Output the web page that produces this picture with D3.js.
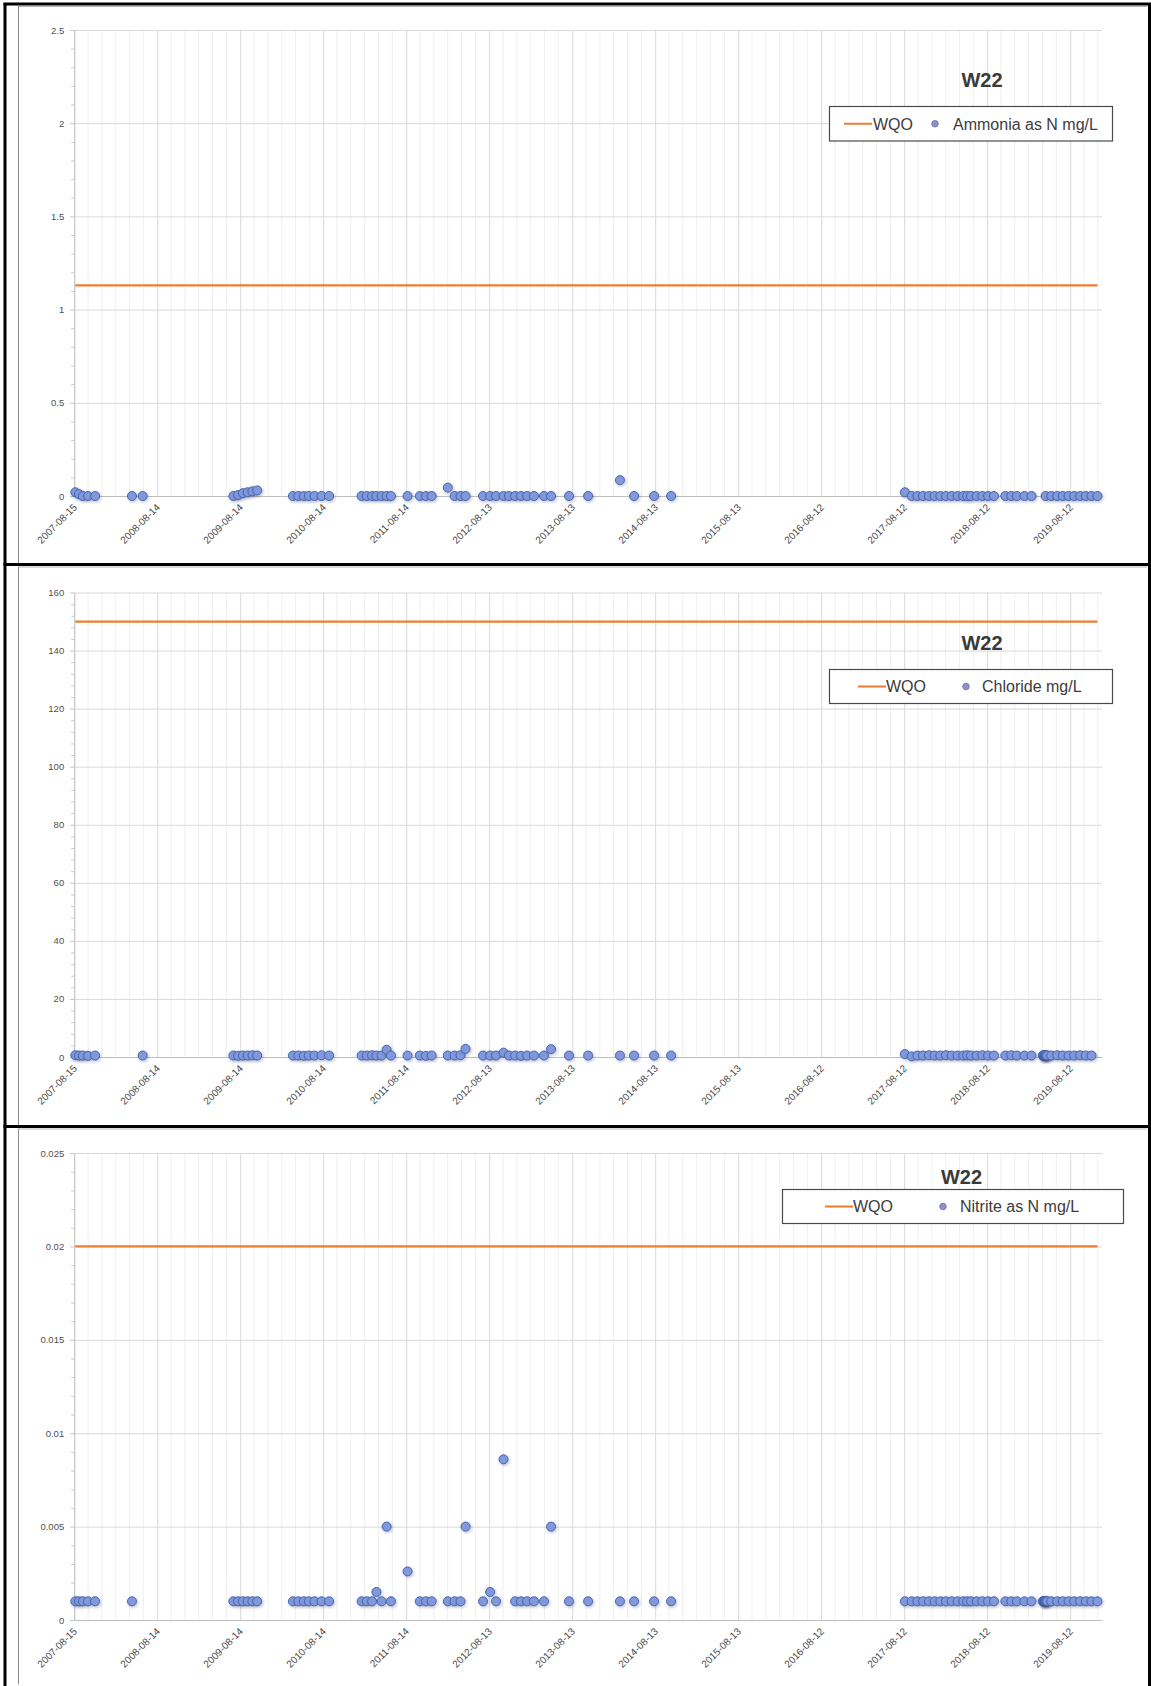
<!DOCTYPE html>
<html>
<head>
<meta charset="utf-8">
<script src="https://cdn.jsdelivr.net/npm/d3@7"></script>
<style>
  html, body { margin: 0; padding: 0; background: #fff; }
  svg { display: block; }
</style>
</head>
<body>
<svg id="page" width="1151" height="1686"></svg>
<script>
// ---- Station W22 monitoring results -------------------------------------
const stationName = "W22";

// Sampling dates (shared by the three parameters)
const sampleDates = [
  "2007-08-20","2007-09-05","2007-09-22","2007-10-15","2007-11-15",
  "2008-04-25","2008-06-11",
  "2009-07-15","2009-08-05","2009-08-26","2009-09-16","2009-10-07","2009-10-28",
  "2010-04-03","2010-04-27","2010-05-21","2010-06-12","2010-07-07","2010-08-07","2010-09-09",
  "2011-01-30","2011-02-22","2011-03-17","2011-04-05","2011-04-28","2011-05-20","2011-06-08",
  "2011-08-20","2011-10-13","2011-11-09","2011-12-04",
  "2012-02-13","2012-03-14","2012-04-09","2012-05-01",
  "2012-07-17","2012-08-17","2012-09-12","2012-10-15","2012-11-08","2012-12-05","2012-12-31",
  "2013-01-27","2013-02-26","2013-04-11","2013-05-12","2013-07-30","2013-10-22",
  "2014-03-11","2014-05-12","2014-08-08","2014-10-22",
  "2017-08-15","2017-09-14","2017-10-09","2017-11-03","2017-11-29","2017-12-24",
  "2018-01-18","2018-02-12","2018-03-09","2018-04-04","2018-04-29","2018-05-16",
  "2018-06-02","2018-06-27","2018-07-22","2018-08-16","2018-09-11","2018-10-31",
  "2018-11-26","2018-12-21",
  "2019-01-23","2019-02-23","2019-04-14","2019-04-17","2019-04-20","2019-04-23",
  "2019-04-26","2019-04-29","2019-05-03","2019-05-21","2019-06-16","2019-07-11",
  "2019-08-05","2019-08-30","2019-09-25","2019-10-20","2019-11-14","2019-12-10"
];

// Ammonia as N (mg/L); null = not analysed on that date
const ammoniaValues = [
  0.02, 0.01, 0, 0, 0,
  0, 0,
  0, 0.005, 0.015, 0.02, 0.025, 0.03,
  0, 0, 0, 0, 0, 0, 0,
  0, 0, 0, 0, 0, 0, 0,
  0, 0, 0, 0,
  0.045, 0, 0, 0,
  0, 0, 0, 0, 0, 0, 0,
  0, 0, 0, 0, 0, 0,
  0.085, 0, 0, 0,
  0.02, 0, 0, 0, 0, 0,
  0, 0, 0, 0, 0, 0,
  0, 0, 0, 0, 0, 0,
  0, 0,
  0, 0, null, null, null, null,
  0, null, null, 0, 0, 0,
  0, 0, 0, 0, 0, 0
];

// Chloride (mg/L)
const chlorideValues = [
  0.6, 0.5, 0.5, 0.4, 0.5,
  null, 0.5,
  0.5, 0.4, 0.5, 0.5, 0.6, 0.5,
  0.5, 0.5, 0.4, 0.5, 0.5, 0.6, 0.5,
  0.5, 0.5, 0.6, 0.5, 0.5, 2.5, 0.5,
  0.5, 0.5, 0.4, 0.5,
  0.5, 0.5, 0.6, 2.8,
  0.5, 0.5, 0.5, 1.5, 0.5, 0.5, 0.4,
  0.5, 0.5, 0.5, 2.7, 0.5, 0.5,
  0.5, 0.5, 0.5, 0.5,
  1.0, 0.2, 0.5, 0.5, 0.6, 0.5,
  0.5, 0.6, 0.5, 0.5, 0.5, 0.6,
  0.5, 0.5, 0.6, 0.5, 0.5, 0.5,
  0.6, 0.5,
  0.5, 0.5, 0.5, 0.6, 0.5, 0.5,
  0.6, 0.5, 0.5, 0.5, 0.6, 0.5,
  0.5, 0.5, 0.6, 0.5, 0.5, null
];

// Nitrite as N (mg/L)
const nitriteValues = [
  0.001, 0.001, 0.001, 0.001, 0.001,
  0.001, null,
  0.001, 0.001, 0.001, 0.001, 0.001, 0.001,
  0.001, 0.001, 0.001, 0.001, 0.001, 0.001, 0.001,
  0.001, 0.001, 0.001, 0.0015, 0.001, 0.005, 0.001,
  0.0026, 0.001, 0.001, 0.001,
  0.001, 0.001, 0.001, 0.005,
  0.001, 0.0015, 0.001, 0.0086, null, 0.001, 0.001,
  0.001, 0.001, 0.001, 0.005, 0.001, 0.001,
  0.001, 0.001, 0.001, 0.001,
  0.001, 0.001, 0.001, 0.001, 0.001, 0.001,
  0.001, 0.001, 0.001, 0.001, 0.001, 0.001,
  0.001, 0.001, 0.001, 0.001, 0.001, 0.001,
  0.001, 0.001,
  0.001, 0.001, 0.001, 0.001, 0.001, 0.001,
  0.001, 0.001, 0.001, 0.001, 0.001, 0.001,
  0.001, 0.001, 0.001, 0.001, 0.001, 0.001
];

// Water quality objectives (mg/L)
const ammoniaWQO = 1.13;
const chlorideWQO = 150;
const nitriteWQO = 0.02;

// Axis tick labels
const xTickLabels = [
  "2007-08-15","2008-08-14","2009-08-14","2010-08-14","2011-08-14","2012-08-13",
  "2013-08-13","2014-08-13","2015-08-13","2016-08-12","2017-08-12","2018-08-12","2019-08-12"
];
const ammoniaTickLabels  = ["0","0.5","1","1.5","2","2.5"];
const chlorideTickLabels = ["0","20","40","60","80","100","120","140","160"];
const nitriteTickLabels  = ["0","0.005","0.01","0.015","0.02","0.025"];
const axisEnd = "2019-12-30";

const wqoLabel = "WQO";
const seriesNames = ["Ammonia as N mg/L", "Chloride mg/L", "Nitrite as N mg/L"];

// ---- Drawing ---------------------------------------------------------------
const FONT = "'Liberation Sans', Arial, Helvetica, sans-serif";
const ORANGE = "#ed7d31";
const parseDate = d3.timeParse("%Y-%m-%d");
const dates = sampleDates.map(parseDate);
const xTicks = xTickLabels.map(parseDate);

const svg = d3.select("#page");
const x = d3.scaleTime()
  .domain([xTicks[0], parseDate(axisEnd)])
  .range([74.2, 1102]);
const [X0, X1] = x.range();

// minor vertical gridlines: six per 365-day major step
const minorGrid = [];
{
  const t0 = xTicks[0].getTime(), tEnd = x.domain()[1].getTime();
  for (let k = 1; ; k++) {
    const t = t0 + k * (365 / 6) * 864e5;
    if (t > tEnd) break;
    if (k % 6 !== 0) minorGrid.push(new Date(t));
  }
}

// drop-shadow blur for markers
const defs = svg.append("defs");
defs.append("filter").attr("id", "mshadow")
  .attr("x", "-100%").attr("y", "-100%").attr("width", "300%").attr("height", "300%")
  .append("feGaussianBlur").attr("stdDeviation", 1.8);

// panel frames
const frame = svg.append("g").attr("fill", "none");
const panelBands = [[4, 564.5], [564.5, 1126.5], [1126.5, 1686]];
panelBands.forEach(([t, b]) => {
  frame.append("line").attr("x1", 18.5).attr("x2", 18.5).attr("y1", t + 2).attr("y2", b - 1.5)
    .attr("stroke", "#8a8a8a").attr("stroke-width", 1);
  frame.append("line").attr("x1", 18.5).attr("x2", 1147).attr("y1", t + 2.5).attr("y2", t + 2.5)
    .attr("stroke", "#b5b5b5").attr("stroke-width", 1);
});
frame.append("line").attr("x1", 5).attr("x2", 5).attr("y1", 3).attr("y2", 1686)
  .attr("stroke", "#000").attr("stroke-width", 3);
frame.append("line").attr("x1", 1149.5).attr("x2", 1149.5).attr("y1", 3).attr("y2", 1686)
  .attr("stroke", "#000").attr("stroke-width", 3);
[4, 564.5, 1126.5].forEach(yy => {
  frame.append("line").attr("x1", 3.5).attr("x2", 1151).attr("y1", yy).attr("y2", yy)
    .attr("stroke", "#000").attr("stroke-width", 3);
});

const panels = [
  { values: ammoniaValues, wqo: ammoniaWQO, ticks: ammoniaTickLabels, name: seriesNames[0],
    yTop: 30, yBottom: 496, titleX: 982, titleY: 87,
    legend: { x: 829.5, y: 106.5, w: 283, h: 34.5, lineX: 844, wqoX: 873, dotX: 935, textX: 953 } },
  { values: chlorideValues, wqo: chlorideWQO, ticks: chlorideTickLabels, name: seriesNames[1],
    yTop: 592.5, yBottom: 1057, titleX: 982, titleY: 649.5,
    legend: { x: 829.5, y: 669.5, w: 283, h: 34, lineX: 858, wqoX: 886, dotX: 966, textX: 982 } },
  { values: nitriteValues, wqo: nitriteWQO, ticks: nitriteTickLabels, name: seriesNames[2],
    yTop: 1153, yBottom: 1620, titleX: 961.5, titleY: 1183.5,
    legend: { x: 782.5, y: 1189.5, w: 341, h: 34, lineX: 825, wqoX: 853, dotX: 943, textX: 960 } }
];

panels.forEach(p => {
  const yTicks = p.ticks.map(Number);
  const yMax = yTicks[yTicks.length - 1];
  const y = d3.scaleLinear().domain([0, yMax]).range([p.yBottom, p.yTop]);
  const g = svg.append("g");

  // minor vertical gridlines
  g.append("g").selectAll("line").data(minorGrid).join("line")
    .attr("x1", d => x(d)).attr("x2", d => x(d))
    .attr("y1", p.yTop).attr("y2", p.yBottom)
    .attr("stroke", "#efefef").attr("stroke-width", 1);

  // major vertical gridlines
  g.append("g")
    .attr("transform", `translate(0,${p.yBottom})`)
    .call(d3.axisBottom(x).tickValues(xTicks).tickSize(-(p.yBottom - p.yTop)).tickFormat("").tickSizeOuter(0))
    .call(a => a.select(".domain").remove())
    .call(a => a.selectAll(".tick line").attr("stroke", "#d9d9d9"));

  // horizontal gridlines
  g.append("g")
    .attr("transform", `translate(${X0},0)`)
    .call(d3.axisLeft(y).tickValues(yTicks.filter(v => v > 0)).tickSize(-(X1 - X0)).tickFormat("").tickSizeOuter(0))
    .call(a => a.select(".domain").remove())
    .call(a => a.selectAll(".tick line").attr("stroke", "#d9d9d9"));

  // minor y tick marks
  const step = yTicks[1] - yTicks[0];
  const minorY = d3.range(1, Math.round(yMax / step * 5)).map(i => i * step / 5).filter((v, i) => (i + 1) % 5 !== 0);
  g.append("g")
    .attr("transform", `translate(${X0},0)`)
    .call(d3.axisLeft(y).tickValues(minorY).tickSize(3).tickFormat("").tickSizeOuter(0))
    .call(a => a.select(".domain").remove())
    .call(a => a.selectAll(".tick line").attr("stroke", "#c8c8c8"));

  // y axis with labels
  g.append("g")
    .attr("transform", `translate(${X0},0)`)
    .call(d3.axisLeft(y).tickValues(yTicks).tickFormat((d, i) => p.ticks[i]).tickSize(4).tickPadding(6).tickSizeOuter(0))
    .call(a => a.select(".domain").attr("stroke", "#c4c4c4"))
    .call(a => a.selectAll(".tick line").attr("stroke", "#c4c4c4"))
    .call(a => a.selectAll("text").attr("fill", "#505050")
      .style("font-family", FONT).style("font-size", "9.5px"));

  // x axis at zero with rotated date labels
  g.append("g")
    .attr("transform", `translate(0,${y(0)})`)
    .call(d3.axisBottom(x).tickValues(xTicks).tickFormat((d, i) => xTickLabels[i]).tickSize(0).tickSizeOuter(0))
    .call(a => a.select(".domain").attr("stroke", "#bfbfbf"))
    .call(a => a.selectAll("text")
      .attr("y", 0).attr("dy", null)
      .attr("text-anchor", "end")
      .attr("transform", "translate(3,12) rotate(-45)")
      .attr("fill", "#4a4a4a")
      .style("font-family", FONT).style("font-size", "10px"));

  // WQO line across the sampled period
  const span = d3.extent(dates);
  g.append("path")
    .datum(span.map(d => ({ d, v: p.wqo })))
    .attr("d", d3.line().x(e => x(e.d)).y(e => y(e.v)))
    .attr("fill", "none").attr("stroke", ORANGE).attr("stroke-width", 2.2);

  // sample markers
  const pts = dates.map((d, i) => ({ d, v: p.values[i] })).filter(e => e.v !== null);
  const mk = g.append("g").selectAll("g").data(pts).join("g")
    .attr("transform", e => `translate(${x(e.d)},${y(e.v)})`);
  mk.append("circle").attr("cx", 1).attr("cy", 1.2).attr("r", 5.2)
    .attr("fill", "#15224a").attr("opacity", 0.24).attr("filter", "url(#mshadow)");
  mk.append("circle").attr("r", 4.5)
    .attr("fill", "#8199da").attr("stroke", "#4565b5").attr("stroke-width", 1);

  // title
  g.append("text")
    .attr("x", p.titleX).attr("y", p.titleY).attr("text-anchor", "middle")
    .attr("fill", "#3a3a3a")
    .style("font-family", FONT).style("font-size", "20px").style("font-weight", "bold")
    .text(stationName);

  // legend
  const L = p.legend, cy = L.y + L.h / 2;
  const lg = g.append("g");
  lg.append("rect").attr("x", L.x).attr("y", L.y).attr("width", L.w).attr("height", L.h)
    .attr("fill", "#fff").attr("stroke", "#4a4a4a").attr("stroke-width", 1.2);
  lg.append("line").attr("x1", L.lineX).attr("x2", L.lineX + 28).attr("y1", cy).attr("y2", cy)
    .attr("stroke", ORANGE).attr("stroke-width", 2);
  lg.append("text").attr("x", L.wqoX).attr("y", cy + 5.8)
    .attr("fill", "#3c3c3c").style("font-family", FONT).style("font-size", "16px")
    .text(wqoLabel);
  lg.append("circle").attr("cx", L.dotX).attr("cy", cy).attr("r", 3.3)
    .attr("fill", "#8d90cb").attr("stroke", "#6b70b0").attr("stroke-width", 0.8);
  lg.append("text").attr("x", L.textX).attr("y", cy + 5.8)
    .attr("fill", "#3c3c3c").style("font-family", FONT).style("font-size", "16px")
    .text(p.name);
});
</script>
</body>
</html>
